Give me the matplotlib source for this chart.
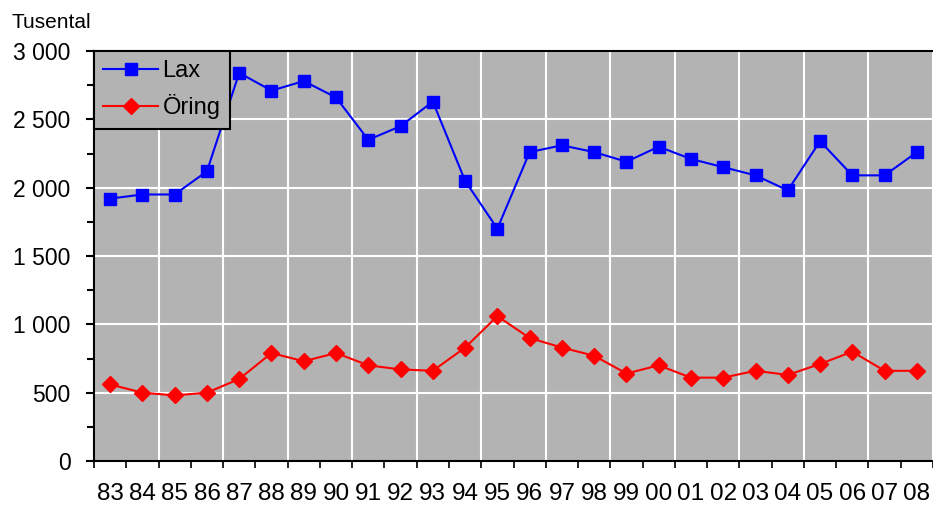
import numpy as np
import matplotlib
matplotlib.use("Agg")
import matplotlib.pyplot as plt

plt.rcParams['font.family'] = ['Liberation Sans', 'DejaVu Sans']

years = ["83", "84", "85", "86", "87", "88", "89", "90", "91", "92", "93", "94", "95",
         "96", "97", "98", "99", "00", "01", "02", "03", "04", "05", "06", "07", "08"]
lax = [1920, 1950, 1950, 2120, 2840, 2710, 2780, 2660, 2350, 2450, 2630, 2050, 1700,
       2260, 2310, 2260, 2190, 2300, 2210, 2150, 2090, 1980, 2340, 2090, 2090, 2260]
oring = [560, 500, 480, 500, 600, 790, 730, 790, 700, 670, 660, 830, 1060,
         900, 830, 770, 640, 700, 610, 610, 660, 630, 710, 800, 660, 660]
yticks = [0, 500, 1000, 1500, 2000, 2500, 3000]
ylabels = ["0", "500", "1 000", "1 500", "2 000", "2 500", "3 000"]

fig = plt.figure(figsize=(9.33, 5.08), dpi=100)
ax = fig.add_axes([94/933, 1-461/508, 839/933, 410/508])
ax.set_facecolor("#b3b3b3")

x = np.arange(len(years))
n = len(years)

# white grid
for b in np.arange(0, n + 1, 2) - 0.5:
    ax.axvline(b, color="white", lw=1.5, zorder=1)
for yv in yticks[1:]:
    ax.axhline(yv, color="white", lw=1.5, zorder=1)

ax.plot(x, lax, color="#0000ff", lw=1.5, marker="s", ms=9, label="Lax", zorder=3)
ax.plot(x, oring, color="#ff0000", lw=1.5, marker="D", ms=8, label="Öring", zorder=3)

ax.set_xlim(-0.5, n - 0.5)
ax.set_ylim(0, 3000)

ax.set_xticks(np.arange(n + 1) - 0.5)
ax.set_xticklabels([])
ax.set_xticks(x, minor=True)
ax.set_xticklabels(years, minor=True, fontsize=17.5)
ax.tick_params(axis="x", which="major", length=5, width=1.2, direction="out")
ax.tick_params(axis="x", which="minor", length=0, pad=15.5)

ax.set_yticks(yticks)
ax.set_yticklabels(ylabels, fontsize=16.5)
ax.set_yticks(np.arange(250, 3000, 500), minor=True)
ax.tick_params(axis="y", which="major", length=6, width=1.5, pad=11)
ax.tick_params(axis="y", which="minor", length=5, width=1.5)

for s in ["left", "bottom", "top"]:
    ax.spines[s].set_linewidth(1.5)
ax.spines["right"].set_visible(False)

leg = ax.legend(loc="upper left", bbox_to_anchor=(0, 1), borderaxespad=0,
                fontsize=17, handlelength=2.3, handletextpad=0.2,
                labelspacing=0.5, borderpad=0.4, fancybox=False,
                facecolor="#b3b3b3", edgecolor="black", framealpha=1)
leg.get_frame().set_linewidth(1.5)

fig.text(12/933, 1-22/508, "Tusental", fontsize=15, va="center", ha="left")

plt.savefig("out.png", dpi=100)
